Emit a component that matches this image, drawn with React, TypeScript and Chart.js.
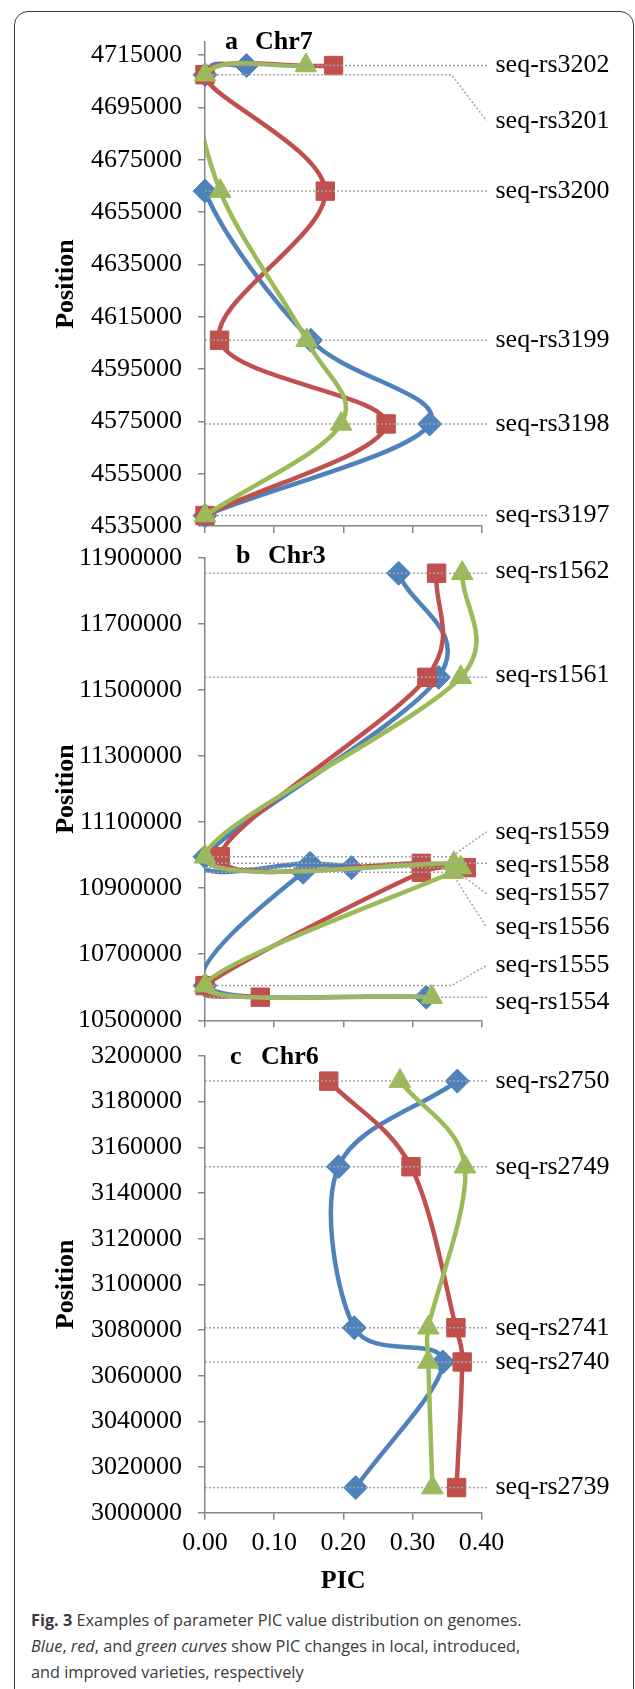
import React, { useEffect, useRef } from 'react';
import { Chart, registerables } from 'chart.js';

Chart.register(...registerables);

// ---------- shared axis data ----------
const xTicks = [0, 0.1, 0.2, 0.3, 0.4];
const xTickLabels = ['0.00', '0.10', '0.20', '0.30', '0.40'];

// ---------- panel a: Chr7 ----------
const snpsA = ['seq-rs3202', 'seq-rs3201', 'seq-rs3200', 'seq-rs3199', 'seq-rs3198', 'seq-rs3197'];
const posA = [4711000, 4707500, 4663000, 4606000, 4574000, 4539000];
const localA = [0.06, 0, 0, 0.153, 0.325, 0];
const introducedA = [0.186, 0, 0.174, 0.021, 0.262, 0];
const improvedA = [0.146, 0, 0.022, 0.147, 0.197, 0];
const yTicksA = [4535000, 4555000, 4575000, 4595000, 4615000, 4635000, 4655000, 4675000, 4695000, 4715000];

// ---------- panel b: Chr3 ----------
const snpsB = ['seq-rs1562', 'seq-rs1561', 'seq-rs1559', 'seq-rs1558', 'seq-rs1557', 'seq-rs1556', 'seq-rs1555', 'seq-rs1554'];
const posB = [11853000, 11538000, 10995000, 10975000, 10962000, 10948000, 10605000, 10570000];
const localB = [0.28, 0.338, 0, 0.152, 0.212, 0.142, 0, 0.32];
const introducedB = [0.335, 0.321, 0.022, 0.313, 0.378, 0.313, 0, 0.08];
const improvedB = [0.372, 0.37, 0, 0.36, 0.37, 0.358, 0, 0.328];
const yTicksB = [10500000, 10700000, 10900000, 11100000, 11300000, 11500000, 11700000, 11900000];

// ---------- panel c: Chr6 ----------
const snpsC = ['seq-rs2750', 'seq-rs2749', 'seq-rs2741', 'seq-rs2740', 'seq-rs2739'];
const posC = [3189000, 3151500, 3081000, 3066000, 3011000];
const localC = [0.365, 0.193, 0.216, 0.344, 0.218];
const introducedC = [0.179, 0.298, 0.363, 0.372, 0.364];
const improvedC = [0.282, 0.376, 0.323, 0.323, 0.329];
const yTicksC = [3000000, 3020000, 3040000, 3060000, 3080000, 3100000, 3120000, 3140000, 3160000, 3180000, 3200000];

const BLUE = '#4F81BD';
const RED = '#C0504D';
const GREEN = '#9BBB59';
const AXIS = '#868686';
const SERIF = '"Liberation Serif", "Times New Roman", serif';

type PanelDef = {
  letter: string;
  chr: string;
  snps: string[];
  pos: number[];
  local: number[];
  introduced: number[];
  improved: number[];
  yTicks: number[];
  yMin: number;
  yMax: number;
  top: number;
  height: number;
  padTop: number;
  xAxisH: number;
  showX: boolean;
  shifts: number[];
  titleDy: number;
  titleLetterDx: number;
  titleChrDx: number;
};

const panels: PanelDef[] = [
  {
    letter: 'a', chr: 'Chr7', snps: snpsA, pos: posA, local: localA, introduced: introducedA, improved: improvedA,
    yTicks: yTicksA, yMin: 4535000, yMax: 4720000,
    top: 0, height: 540, padTop: 42, xAxisH: 13.3, showX: false,
    shifts: [0, 46, 0, 0, 0, 0], titleDy: 7, titleLetterDx: 20, titleChrDx: 50,
  },
  {
    letter: 'b', chr: 'Chr3', snps: snpsB, pos: posB, local: localB, introduced: introducedB, improved: improvedB,
    yTicks: yTicksB, yMin: 10500000, yMax: 11900000,
    top: 540, height: 495, padTop: 17.7, xAxisH: 14.7, showX: false,
    shifts: [-2, -2, -25, 2, 26, 55, -20, 5], titleDy: 5.6, titleLetterDx: 31, titleChrDx: 63,
  },
  {
    letter: 'c', chr: 'Chr6', snps: snpsC, pos: posC, local: localC, introduced: introducedC, improved: improvedC,
    yTicks: yTicksC, yMin: 3000000, yMax: 3200000,
    top: 1035, height: 565, padTop: 21, xAxisH: 87.3, showX: true,
    shifts: [0, 0, 0, 0, 0], titleDy: 8, titleLetterDx: 25, titleChrDx: 56,
  },
];

// Excel-style smoothing: bezier arms of 1/6 of the neighbour chord, capped at half the segment
const excelSmooth = {
  id: 'excelSmooth',
  beforeDatasetsDraw(chart: any) {
    chart.data.datasets.forEach((ds: any, di: number) => {
      if (!ds.showLine) return;
      const meta = chart.getDatasetMeta(di);
      const pts = meta.data;
      const n = pts.length;
      if (!meta.dataset || n < 2) return;
      const P = pts.map((q: any) => ({ x: q.x, y: q.y }));
      const dist = (a: any, b: any) => Math.hypot(a.x - b.x, a.y - b.y);
      for (let i = 0; i < n; i++) {
        const cur = P[i];
        if (i < n - 1) {
          const nx = P[i + 1];
          const seg = dist(cur, nx);
          let tx: number, ty: number, f: number;
          if (i === 0) { tx = nx.x - cur.x; ty = nx.y - cur.y; f = 1 / 3; }
          else { tx = nx.x - P[i - 1].x; ty = nx.y - P[i - 1].y; f = 1 / 6; }
          const len = Math.hypot(tx, ty) * f;
          const s = len > seg / 2 && len > 0 ? f * (seg / 2) / len : f;
          pts[i].cp2x = cur.x + tx * s;
          pts[i].cp2y = cur.y + ty * s;
        } else {
          pts[i].cp2x = cur.x;
          pts[i].cp2y = cur.y;
        }
        if (i > 0) {
          const pv = P[i - 1];
          const seg = dist(pv, cur);
          let tx: number, ty: number, f: number;
          if (i === n - 1) { tx = cur.x - pv.x; ty = cur.y - pv.y; f = 1 / 3; }
          else { tx = P[i + 1].x - pv.x; ty = P[i + 1].y - pv.y; f = 1 / 6; }
          const len = Math.hypot(tx, ty) * f;
          const s = len > seg / 2 && len > 0 ? f * (seg / 2) / len : f;
          pts[i].cp1x = cur.x - tx * s;
          pts[i].cp1y = cur.y - ty * s;
        } else {
          pts[i].cp1x = cur.x;
          pts[i].cp1y = cur.y;
        }
      }
      meta.dataset._pointsUpdated = true;
      delete meta.dataset._path;
    });
  },
};

function makeAnnotPlugin(p: PanelDef) {
  return {
    id: 'annot-' + p.letter,
    afterDatasetsDraw(chart: any) {
      const { ctx, chartArea } = chart;
      const y = chart.scales.y;
      const lineEnd = chartArea.right + 7;
      const bendX = chartArea.right - 30;
      const textX = chartArea.right + 14;
      ctx.save();
      ctx.strokeStyle = '#a3a3a3';
      ctx.lineWidth = 1.5;
      ctx.setLineDash([2, 2]);
      p.snps.forEach((name, i) => {
        const py = y.getPixelForValue(p.pos[i]);
        const sh = p.shifts[i];
        ctx.beginPath();
        ctx.moveTo(chartArea.left, py);
        if (Math.abs(sh) > 8) {
          ctx.lineTo(bendX, py);
          ctx.lineTo(lineEnd - 2, py + sh);
        } else {
          ctx.lineTo(lineEnd, py);
        }
        ctx.stroke();
      });
      ctx.setLineDash([]);
      ctx.fillStyle = '#000';
      ctx.font = '26px ' + SERIF;
      ctx.textAlign = 'left';
      ctx.textBaseline = 'middle';
      p.snps.forEach((name, i) => {
        const py = y.getPixelForValue(p.pos[i]);
        ctx.fillText(name, textX, py + p.shifts[i]);
      });
      // panel title
      ctx.font = 'bold 26px ' + SERIF;
      ctx.textBaseline = 'alphabetic';
      const by = chartArea.top + p.titleDy;
      ctx.fillText(p.letter, chartArea.left + p.titleLetterDx, by);
      ctx.fillText(p.chr, chartArea.left + p.titleChrDx, by);
      ctx.restore();
    },
  };
}

function buildConfig(p: PanelDef): any {
  const series = [
    { vals: p.local, color: BLUE, style: 'rectRot', radius: 12 },
    { vals: p.introduced, color: RED, style: 'rect', radius: 13 },
    { vals: p.improved, color: GREEN, style: 'triangle', radius: 12.5 },
  ];
  const datasets: any[] = [];
  series.forEach((s, i) => {
    const pts = p.pos.map((yv, k) => ({ x: s.vals[k], y: yv }));
    datasets.push({
      data: pts,
      showLine: true,
      borderColor: s.color,
      backgroundColor: s.color,
      borderWidth: 4.5,
      pointRadius: 0,
      tension: 0.5,
      borderJoinStyle: 'round',
      borderCapStyle: 'round',
      order: 10 - 2 * i,
      clip: { left: 0, right: false, top: false, bottom: false },
    });
    datasets.push({
      data: pts,
      showLine: false,
      pointStyle: s.style,
      pointRadius: s.radius,
      pointBackgroundColor: s.color,
      pointBorderColor: s.color,
      pointBorderWidth: 1,
      order: 9 - 2 * i,
      clip: false,
    });
  });

  return {
    type: 'scatter',
    data: { datasets },
    options: {
      responsive: false,
      animation: false,
      events: [],
      layout: { padding: { left: 0, right: 635 - 481.5, top: p.padTop, bottom: 0 } },
      elements: { line: { capBezierPoints: false } },
      plugins: { legend: { display: false }, tooltip: { enabled: false }, title: { display: false } },
      scales: {
        x: {
          type: 'linear',
          min: 0,
          max: 0.4,
          afterBuildTicks: (sc: any) => { sc.ticks = xTicks.map((v) => ({ value: v })); },
          afterFit: (sc: any) => {
            sc.height = p.xAxisH;
            sc.paddingLeft = 0;
            sc.paddingRight = 0;
            sc.paddingTop = 0;
            sc.paddingBottom = 0;
          },
          ticks: {
            display: p.showX,
            autoSkip: false,
            maxRotation: 0,
            padding: 8.2,
            color: '#000',
            font: { family: SERIF, size: 26 },
            callback: (_v: any, i: number) => xTickLabels[i],
          },
          grid: { display: true, drawOnChartArea: false, drawTicks: true, tickLength: 7, color: AXIS, lineWidth: 1.5 },
          border: { display: true, color: AXIS, width: 1.5 },
          title: {
            display: p.showX,
            text: 'PIC',
            color: '#000',
            font: { family: SERIF, size: 26, weight: 'bold' },
            padding: { top: 0, bottom: 3.4 },
          },
        },
        y: {
          type: 'linear',
          min: p.yMin,
          max: p.yMax,
          afterBuildTicks: (sc: any) => { sc.ticks = p.yTicks.map((v) => ({ value: v })); },
          afterFit: (sc: any) => {
            sc.width = 205;
            sc.paddingTop = 0;
            sc.paddingBottom = 0;
            sc.paddingLeft = 0;
            sc.paddingRight = 0;
          },
          ticks: {
            autoSkip: false,
            padding: 16,
            color: '#000',
            font: { family: SERIF, size: 26 },
            callback: (v: any) => String(v),
          },
          grid: { display: true, drawOnChartArea: false, drawTicks: true, tickLength: 7, color: AXIS, lineWidth: 1.5 },
          border: { display: true, color: AXIS, width: 1.5 },
          title: {
            display: true,
            text: 'Position',
            color: '#000',
            font: { family: SERIF, size: 26, weight: 'bold' },
            padding: { top: 51, bottom: 0 },
          },
        },
      },
    },
    plugins: [excelSmooth, makeAnnotPlugin(p)],
  };
}

function Panel({ p }: { p: PanelDef }) {
  const ref = useRef<HTMLCanvasElement | null>(null);
  useEffect(() => {
    if (!ref.current) return;
    const chart = new Chart(ref.current, buildConfig(p));
    return () => chart.destroy();
  }, [p]);
  return (
    <canvas
      ref={ref}
      width={635}
      height={p.height}
      style={{ position: 'absolute', left: 0, top: p.top, width: 635, height: p.height, display: 'block' }}
    />
  );
}

export default function App() {
  return (
    <div
      style={{
        position: 'absolute',
        left: 0,
        top: 0,
        width: 635,
        height: 1689,
        overflow: 'hidden',
        background: '#fff',
      }}
    >
      <div
        style={{
          position: 'absolute',
          left: 14,
          top: 11,
          width: 620,
          height: 1800,
          boxSizing: 'border-box',
          border: '1.5px solid #3a3a3a',
          borderRadius: 14,
        }}
      />
      {panels.map((p) => (
        <Panel key={p.letter} p={p} />
      ))}
      <div
        style={{
          position: 'absolute',
          left: 31,
          top: 1607,
          width: 600,
          fontFamily: '"Open Sans", sans-serif',
          fontSize: 16.3,
          lineHeight: '26px',
          color: '#3a3a3a',
          whiteSpace: 'nowrap',
        }}
      >
        <b>Fig. 3</b> Examples of parameter PIC value distribution on genomes.
        <br />
        <i>Blue</i>, <i>red</i>, and <i>green curves</i> show PIC changes in local, introduced,
        <br />
        and improved varieties, respectively
      </div>
    </div>
  );
}
